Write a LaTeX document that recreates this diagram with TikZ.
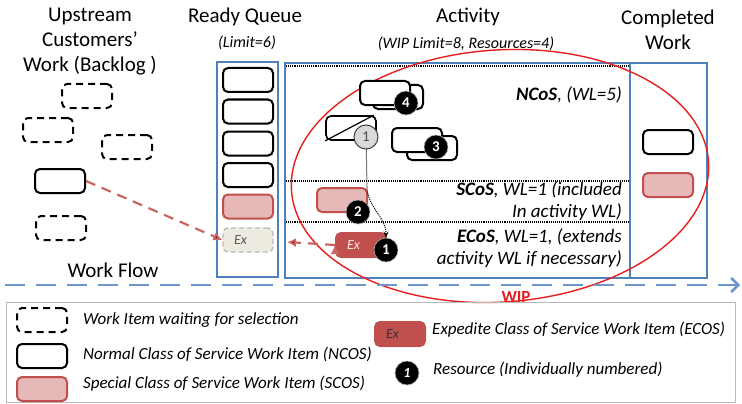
\documentclass[tikz,border=0pt]{standalone}
\usepackage{fontspec}
\setmainfont{Carlito}
\usetikzlibrary{arrows.meta}
\definecolor{laneblue}{RGB}{79,129,189}
\definecolor{flowblue}{RGB}{110,150,205}
\definecolor{scosfill}{RGB}{230,184,183}
\definecolor{scosline}{RGB}{192,80,77}
\definecolor{ecosfill}{RGB}{192,80,77}
\definecolor{ghostfill}{RGB}{238,236,225}
\definecolor{wipred}{RGB}{232,30,30}
\definecolor{pullred}{RGB}{205,100,98}
\newcommand{\hdfont}{\fontsize{21}{25}\selectfont}
\newcommand{\smfont}{\fontsize{16}{19}\selectfont\itshape}
\newcommand{\legfont}{\fontsize{17}{20}\selectfont\itshape}

\begin{document}
\begin{tikzpicture}[x=1pt,y=-1pt,
		witem/.style={rounded corners=5pt, minimum width=50, minimum height=24, line width=2pt, inner sep=0pt},
		nitem/.style={witem, draw=black, fill=white},
		bitem/.style={witem, draw=black, dash pattern=on 7pt off 5pt},
		sitem/.style={witem, draw=scosline, fill=scosfill},
		exitem/.style={witem, text width=28, inner xsep=11, align=left, font=\fontsize{14}{16}\selectfont\itshape},
		res/.style={circle, fill=black, draw=gray!60, line width=0.6pt, minimum size=24, inner sep=0pt, text=white, font=\fontsize{15}{15}\selectfont\bfseries},
		lane/.style={draw=laneblue, line width=1.8pt},
		sep/.style={densely dotted, line width=1.1pt},
		head/.style={font=\hdfont, align=center, inner sep=0pt},
		area/.style={font=\fontsize{19}{22}\selectfont\itshape, align=right, inner sep=0pt, anchor=east},
		legtxt/.style={font=\legfont, inner sep=0pt, anchor=west},
		pull/.style={draw=pullred, line width=2.2pt, dash pattern=on 10pt off 7pt, -{Latex[length=9pt,width=9pt]}},
		move/.style={draw=black, densely dotted, line width=1pt, -{Stealth[length=6pt,width=5pt]}},
		flow/.style={draw=flowblue, line width=2.6pt, dash pattern=on 20pt off 11pt, -{Straight Barb[length=7pt,width=14pt]}}
	]
	\useasboundingbox (0,0) rectangle (742,404);
	\node[head] (upstream) at (90,42) {Upstream\\Customers'\\Work (Backlog )};
	\node[head] (ready) at (245,17) {Ready Queue};
	\node[font=\smfont, inner sep=0pt] (limit) at (247,43) {(Limit=6)};
	\node[head] (activity) at (468,17) {Activity};
	\node[font=\smfont, inner sep=0pt] (wiplimit) at (466,44) {(WIP Limit=8, Resources=4)};
	\node[head] (completed) at (668,29.5) {Completed\\Work};
	\draw[lane] (217,62) rectangle (278,277);
	\draw[lane] (285,63) rectangle (630,278);
	\draw[lane] (630,63) rectangle (707,278);
	\draw[sep] (286,66) -- (629,66);
	\draw[sep] (286,181) -- (629,181);
	\draw[sep] (286,222) -- (629,222);
	\node[area] (ncos) at (622,95) {\textbf{NCoS}, (WL=5)};
	\node[area] (scos) at (622,201) {\textbf{SCoS}, WL=1 (included\\In activity WL)};
	\node[area] (ecos) at (622,248) {\textbf{ECoS}, WL=1, (extends\\activity WL if necessary)};
	\draw[wipred, line width=1.4pt, rotate around={4:(500,176)}] (500,176) ellipse [x radius=209, y radius=126];
	\node[font=\fontsize{17}{17}\selectfont\bfseries, text=wipred, inner sep=0pt] (wip) at (516,297) {WIP};
	\coordinate (wfs) at (5,285);
	\coordinate (wfe) at (740,285);
	\draw[flow] (wfs) -- (wfe);
	\node[head] (workflow) at (113,270) {Work Flow};
	\node[bitem] (b1) at (87,96) {};
	\node[bitem] (b2) at (48,130) {};
	\node[bitem] (b3) at (127,147) {};
	\node[nitem] (b4) at (60,181) {};
	\node[bitem] (b5) at (61,228) {};
	\foreach \i/\y in {1/80,2/111.5,3/143.5,4/175}
		\node[nitem] (q\i) at (248,\y) {};
	\node[sitem] (qs) at (248,206.5) {};
	\node[exitem, draw=gray!55, fill=ghostfill, dash pattern=on 5pt off 3pt, line width=1.4pt, text=black!65] (qx) at (248,240) {Ex};
	\node[nitem] (a4b) at (398,97) {};
	\node[nitem] (a4f) at (385,93) {};
	\node[res] (r4) at (406,103) {4};
	\node[nitem] (a3b) at (432,148) {};
	\node[nitem] (a3f) at (417,140) {};
	\node[res] (r3) at (436,147) {3};
	\node[nitem, line width=1.6pt] (gbox) at (351,128) {};
	\draw[line width=1.2pt] (gbox.south west) -- ([xshift=-3]gbox.north east);
	\node[res, fill=gray!30, draw=black!75, line width=1pt, text=black!70, font=\fontsize{15}{15}\selectfont] (g1) at (366,137) {1};
	\node[sitem] (as) at (342,200) {};
	\node[res] (r2) at (358,212) {2};
	\node[exitem, draw=ecosfill, fill=ecosfill, text=red!10] (ax) at (361,245) {Ex};
	\node[res] (r1) at (386,250) {1};
	\coordinate (drop) at (367,186);
	\draw[move] (g1) -- (drop) to[out=-90,in=90] (r1);
	\coordinate (qin) at (287,242);
	\path[pull]
		(b4.east) edge (qx.west)
		(ax.west) edge (qin);
	\node[nitem] (c1) at (668,142) {};
	\node[sitem] (c2) at (668,185) {};
	\node[draw=gray!55, line width=1pt, minimum width=729, minimum height=100, inner sep=0pt] (legend) at (370.5,352) {};
	\node[bitem] (l1) at (42,320) {};
	\node[nitem] (l2) at (42,356) {};
	\node[sitem] (l3) at (42,389) {};
	\node[legtxt] (t1) at (83,320) {Work Item waiting for selection};
	\node[legtxt] (t2) at (83,354) {Normal Class of Service Work Item (NCOS)};
	\node[legtxt] (t3) at (83,384) {Special Class of Service Work Item (SCOS)};
	\node[exitem, draw=ecosfill, fill=ecosfill, text=black!80] (l4) at (400,334) {Ex};
	\node[legtxt] (t4) at (432,330) {Expedite Class of Service Work Item (ECOS)};
	\node[res, font=\fontsize{14}{14}\selectfont\bfseries\itshape] (l5) at (407,373) {1};
	\node[legtxt] (t5) at (433,370) {Resource (Individually numbered)};
\end{tikzpicture}
\end{document}
